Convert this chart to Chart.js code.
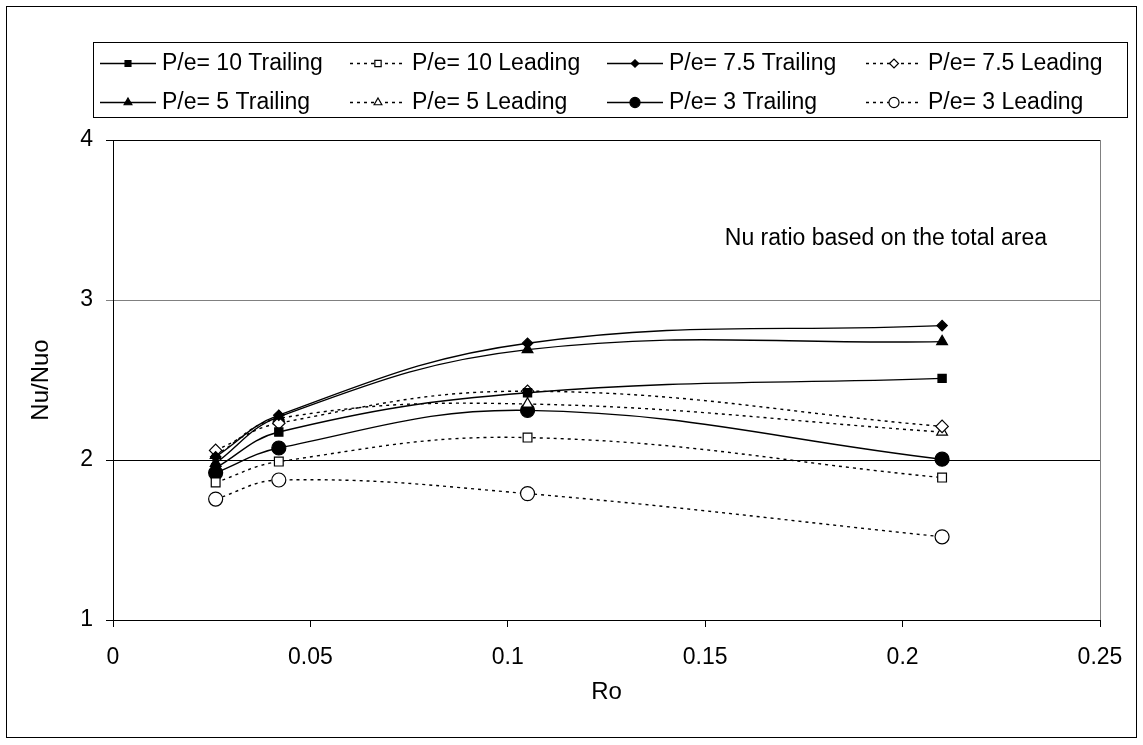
<!DOCTYPE html>
<html>
<head>
<meta charset="UTF-8">
<script src="https://cdn.jsdelivr.net/npm/chart.js"></script>
<style>
  body { margin: 0; background: #fff; }
  #wrap { width: 1143px; height: 745px; }
</style>
</head>
<body>
<div id="wrap"><canvas id="myChart"></canvas></div>
<script>
const ro = [0.026, 0.042, 0.105, 0.21];
const pe10Trailing = [1.95, 2.175, 2.42, 2.51];
const pe10Leading = [1.86, 1.99, 2.14, 1.89];
const pe75Trailing = [2.02, 2.28, 2.73, 2.84];
const pe75Leading = [2.06, 2.23, 2.43, 2.21];
const pe5Trailing = [1.98, 2.27, 2.69, 2.74];
const pe5Leading = [2.03, 2.26, 2.35, 2.175];
const pe3Trailing = [1.92, 2.075, 2.31, 2.005];
const pe3Leading = [1.756, 1.875, 1.79, 1.52];
const xTicks = [0, 0.05, 0.1, 0.15, 0.2, 0.25];
const yTicks = [1, 2, 3, 4];
const note = 'Nu ratio based on the total area';

const FONT = 'Arial, "Liberation Sans", sans-serif';

function pts(vals) {
    return ro.map((x, i) => ({ x: x, y: vals[i] }));
}

function series(label, vals, style, radius, filled, dotted) {
    return {
        label: label,
        data: pts(vals),
        borderColor: '#000',
        borderWidth: 1.4,
        borderDash: dotted ? [3, 4] : [],
        tension: 0.4,
        pointStyle: style,
        pointRadius: radius,
        pointHoverRadius: radius,
        pointBorderWidth: 1.2,
        pointBorderColor: '#000',
        pointBackgroundColor: filled ? '#000' : '#fff'
    };
}

const datasets = [
    series('P/e= 10 Trailing', pe10Trailing, 'rect', 5.8, true, false),
    series('P/e= 10 Leading', pe10Leading, 'rect', 6.2, false, true),
    series('P/e= 7.5 Trailing', pe75Trailing, 'rectRot', 5.2, true, false),
    series('P/e= 7.5 Leading', pe75Leading, 'rectRot', 6.2, false, true),
    series('P/e= 5 Trailing', pe5Trailing, 'triangle', 6.2, true, false),
    series('P/e= 5 Leading', pe5Leading, 'triangle', 6.2, false, true),
    series('P/e= 3 Trailing', pe3Trailing, 'circle', 7, true, false),
    series('P/e= 3 Leading', pe3Leading, 'circle', 7, false, true)
];

// legend slots: line start x per column, y per row
const legendCols = [100, 350, 607, 866];
const legendRows = [63, 102];

const framePlugin = {
    id: 'frame',
    beforeDraw(chart) {
        const ctx = chart.ctx;
        ctx.save();
        ctx.fillStyle = '#fff';
        ctx.fillRect(0, 0, chart.width, chart.height);
        ctx.restore();
    },
    afterDraw(chart) {
        const ctx = chart.ctx;
        const a = chart.chartArea;
        ctx.save();
        // outer frame
        ctx.strokeStyle = '#000';
        ctx.lineWidth = 1;
        ctx.strokeRect(6.5, 6.5, 1130, 731);
        // right edge of plot
        ctx.strokeStyle = '#808080';
        ctx.beginPath();
        ctx.moveTo(Math.round(a.right) + 0.5, a.top);
        ctx.lineTo(Math.round(a.right) + 0.5, a.bottom);
        ctx.stroke();

        // note
        ctx.fillStyle = '#000';
        ctx.font = '23px ' + FONT;
        ctx.textAlign = 'right';
        ctx.textBaseline = 'middle';
        ctx.fillText(note, 1047, 239);

        // legend box
        ctx.strokeStyle = '#000';
        ctx.strokeRect(93.5, 42.5, 1034, 75);
        ctx.textAlign = 'left';
        ctx.font = '23px ' + FONT;
        datasets.forEach((ds, i) => {
            const x = legendCols[i % 4];
            const y = legendRows[Math.floor(i / 4)];
            ctx.save();
            ctx.strokeStyle = '#000';
            ctx.lineWidth = 1.4;
            ctx.setLineDash(ds.borderDash);
            ctx.beginPath();
            ctx.moveTo(x, y + 0.5);
            ctx.lineTo(x + 56, y + 0.5);
            ctx.stroke();
            ctx.setLineDash([]);
            ctx.fillStyle = ds.pointBackgroundColor;
            ctx.lineWidth = ds.pointBorderWidth;
            Chart.helpers.drawPoint(ctx, {
                pointStyle: ds.pointStyle,
                radius: ds.pointRadius * 0.72,
                rotation: 0,
                borderWidth: ds.pointBorderWidth
            }, x + 28, y + 0.5);
            ctx.restore();
            ctx.fillText(ds.label, x + 62, y + 1);
        });
        ctx.restore();
    }
};

const config = {
    type: 'line',
    data: { datasets: datasets },
    options: {
        responsive: true,
        maintainAspectRatio: false,
        animation: false,
        events: [],
        layout: { padding: { left: 0, top: 140, right: 43, bottom: 0 } },
        plugins: {
            legend: { display: false },
            tooltip: { enabled: false }
        },
        scales: {
            x: {
                type: 'linear',
                min: 0,
                max: 0.25,
                afterFit(scale) { scale.height = 125; },
                afterBuildTicks(scale) { scale.ticks = xTicks.map(v => ({ value: v })); },
                grid: { drawOnChartArea: false, color: '#000', tickLength: 7 },
                border: { color: '#000', width: 1 },
                ticks: {
                    color: '#000',
                    padding: 17,
                    maxRotation: 0,
                    autoSkip: false,
                    font: { family: FONT, size: 23 },
                    callback: v => String(v)
                },
                title: {
                    display: true,
                    text: 'Ro',
                    color: '#000',
                    font: { family: FONT, size: 24 },
                    padding: { top: 0, bottom: 38 }
                }
            },
            y: {
                min: 1,
                max: 4,
                afterFit(scale) { scale.width = 113; },
                afterBuildTicks(scale) { scale.ticks = yTicks.map(v => ({ value: v })); },
                grid: {
                    color: c => (c.tick && c.tick.value === 3) ? '#808080' : '#000',
                    tickLength: 7
                },
                border: { color: '#000', width: 1 },
                ticks: {
                    color: '#000',
                    padding: 13,
                    font: { family: FONT, size: 23 }
                },
                title: {
                    display: true,
                    text: 'Nu/Nuo',
                    color: '#000',
                    font: { family: FONT, size: 24 },
                    padding: { top: 27, bottom: 0 }
                }
            }
        }
    },
    plugins: [framePlugin]
};

const myChart = new Chart(document.getElementById('myChart'), config);
</script>
</body>
</html>
